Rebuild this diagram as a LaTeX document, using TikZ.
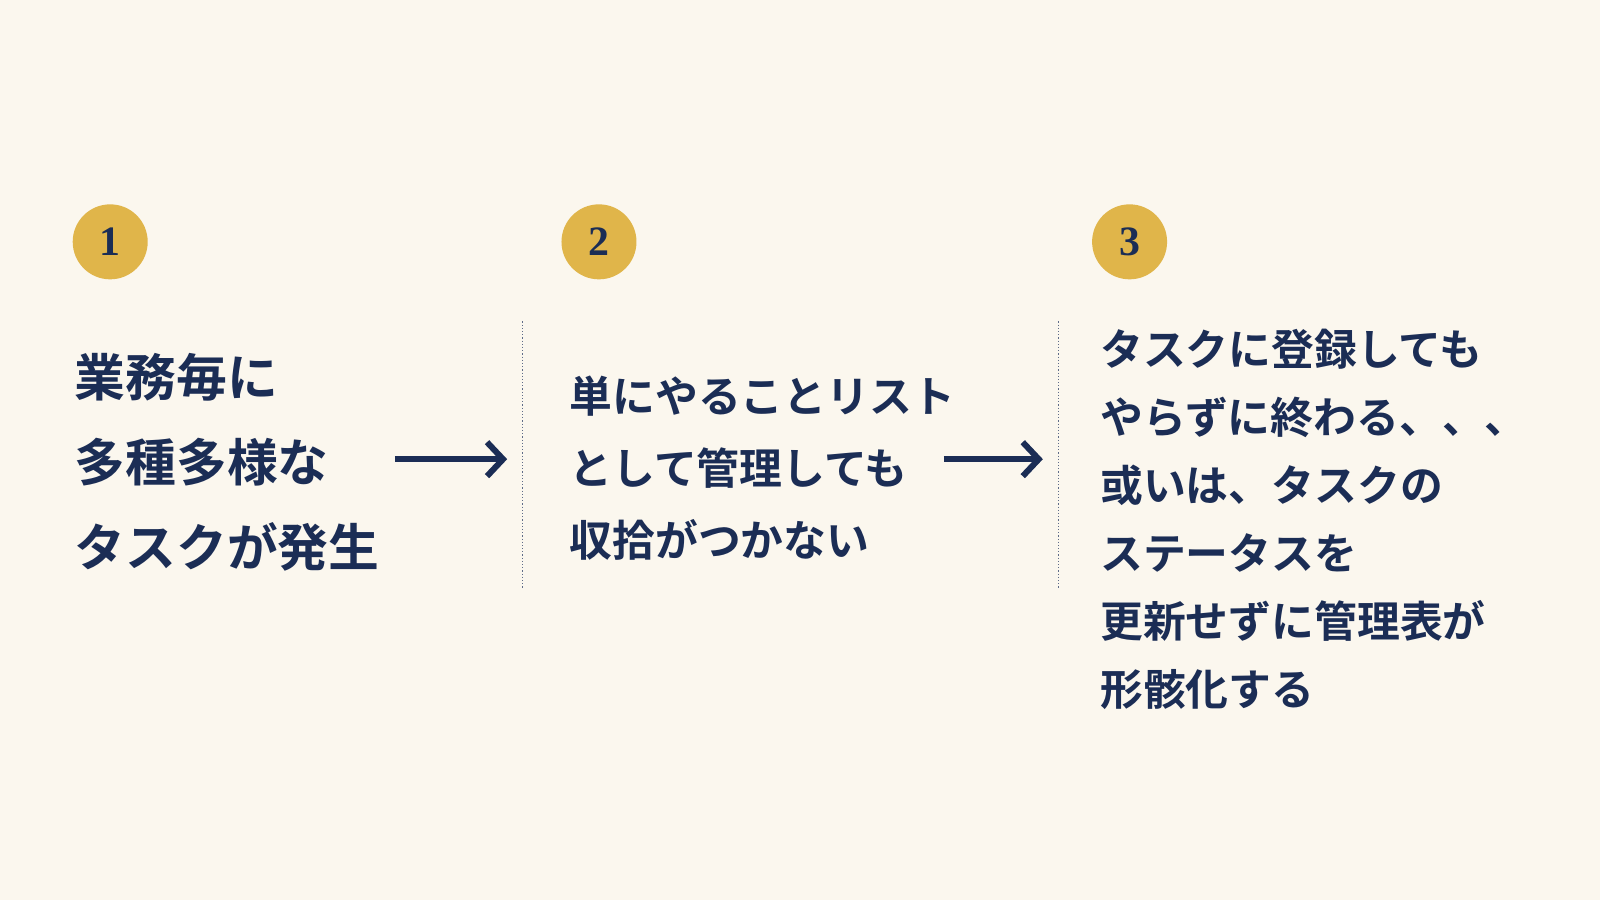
\documentclass[tikz,border=0pt]{standalone}
\usetikzlibrary{arrows.meta}
\usepackage{fontspec}
\newfontfamily\jp{Noto Sans CJK JP Bold}
\newfontfamily\num{Liberation Serif}
\definecolor{bg}{HTML}{FBF7EE}
\definecolor{navy}{HTML}{1B2D55}
\definecolor{gold}{HTML}{E0B54A}
\begin{document}
\begin{tikzpicture}[x=1.0204bp,y=-1.0204bp,
  badge/.style={circle,fill=gold,minimum size=75bp,inner sep=0,text=navy,font=\num\bfseries\fontsize{42}{42}\selectfont},
  blk/.style={anchor=west,align=left,text=navy,inner sep=0},
  arr/.style={navy,line width=6bp,-{Straight Barb[length=16bp,width=34bp]}},
  sep/.style={navy!70,line width=1.2bp,dotted}]
\fill[bg] (0,0) rectangle (1568,882);
\node[badge] (b1) at (108,237) {1};
\node[badge] (b2) at (587,237) {2};
\node[badge] (b3) at (1107,237) {3};
\node[blk,font=\jp\fontsize{51}{85}\selectfont] (t1) at (73,453) {業務毎に\\多種多様な\\タスクが発生};
\node[blk,font=\jp\fontsize{43}{72.5}\selectfont] (t2) at (558,459) {単にやることリスト\\として管理しても\\収拾がつかない};
\node[blk,font=\jp\fontsize{43}{68.4}\selectfont] (t3) at (1078,509) {タスクに登録しても\\やらずに終わる、、、\\或いは、タスクの\\ステータスを\\更新せずに管理表が\\形骸化する};
\coordinate (a1s) at (387,450); \coordinate (a1e) at (497,450);
\coordinate (a2s) at (925,450); \coordinate (a2e) at (1022,450);
\draw[arr] (a1s) -- (a1e);
\draw[arr] (a2s) -- (a2e);
\coordinate (d1a) at (512,315); \coordinate (d1b) at (512,577);
\coordinate (d2a) at (1037,315); \coordinate (d2b) at (1037,577);
\draw[sep] (d1a) -- (d1b);
\draw[sep] (d2a) -- (d2b);
\end{tikzpicture}
\end{document}
